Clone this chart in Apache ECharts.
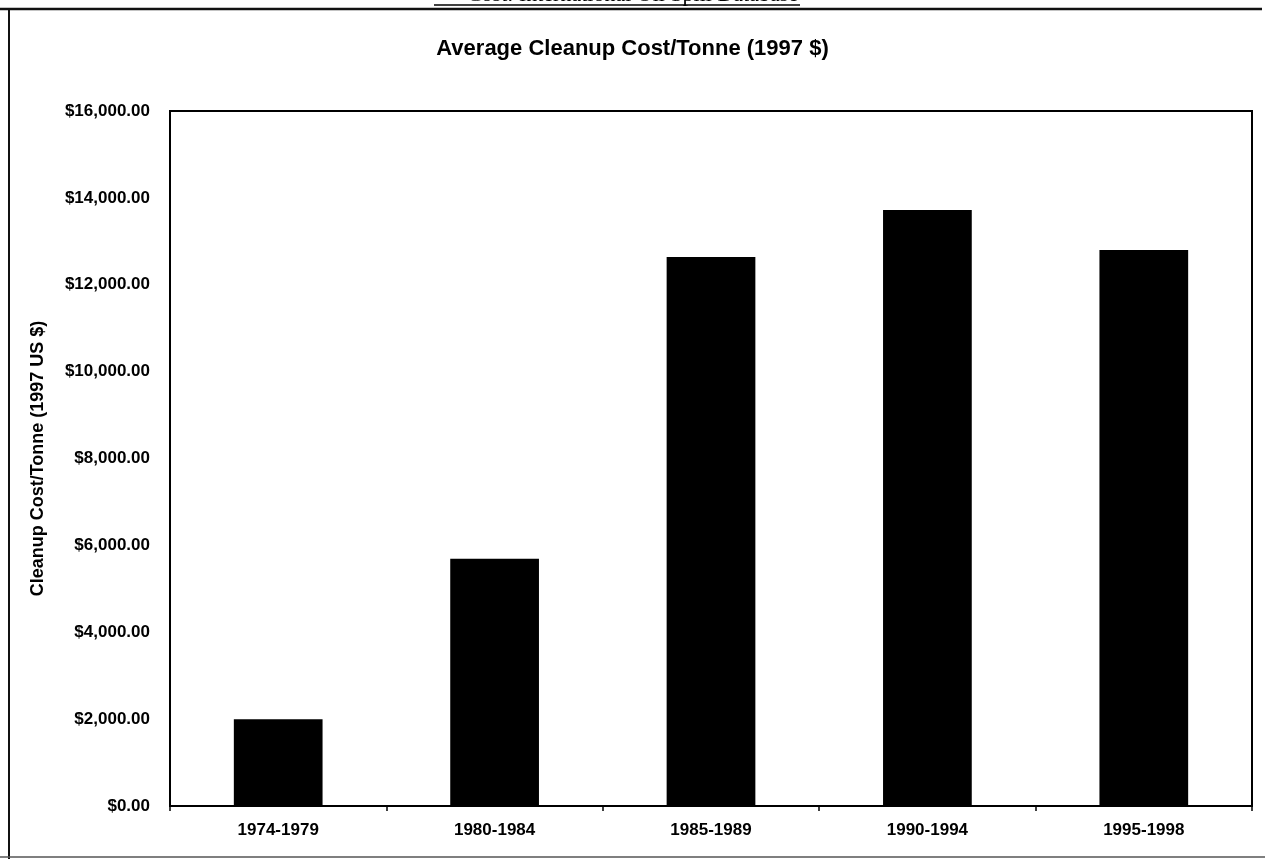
<!DOCTYPE html>
<html><head><meta charset="utf-8">
<script src="https://cdn.jsdelivr.net/npm/echarts@6/dist/echarts.min.js"></script>
<style>html,body{margin:0;padding:0;background:#fff}#c{width:1265px;height:859px}</style>
</head><body><div id="c"></div>
<script>
const categories = ['1974-1979','1980-1984','1985-1989','1990-1994','1995-1998'];
const costPerTonne = [2000, 5690, 12640, 13720, 12800];
const yTicks = {min: 0, max: 16000, interval: 2000};

const chart = echarts.init(document.getElementById('c'));
const font = '"Liberation Sans", Arial, sans-serif';
chart.setOption({
  animation: false,
  backgroundColor: '#fff',
  title: {
    text: 'Average Cleanup Cost/Tonne (1997 $)',
    left: 'center', top: 33,
    textStyle: {fontFamily: font, fontSize: 22, fontWeight: 'bold', color: '#000'}
  },
  grid: {left: 170, right: 13, top: 111, bottom: 53, show: true, borderColor: '#000', borderWidth: 2, backgroundColor: 'transparent'},
  xAxis: {
    type: 'category', data: categories,
    axisLine: {lineStyle: {color: '#000', width: 2}},
    axisTick: {show: true, length: 5, lineStyle: {color: '#000', width: 1.5}},
    axisLabel: {fontFamily: font, fontSize: 17, fontWeight: 'bold', color: '#000', margin: 16}
  },
  yAxis: {
    type: 'value', min: yTicks.min, max: yTicks.max, interval: yTicks.interval,
    name: 'Cleanup Cost/Tonne (1997 US $)', nameLocation: 'middle', nameGap: 123,
    nameTextStyle: {fontFamily: font, fontSize: 18, fontWeight: 'bold', color: '#000'},
    axisLine: {show: true, lineStyle: {color: '#000', width: 2}},
    axisTick: {show: false},
    splitLine: {show: false},
    axisLabel: {
      fontFamily: font, fontSize: 17, fontWeight: 'bold', color: '#000', margin: 20,
      formatter: v => '$' + v.toLocaleString('en-US', {minimumFractionDigits: 2, maximumFractionDigits: 2})
    }
  },
  series: [{
    type: 'bar', data: costPerTonne, barWidth: '41%',
    itemStyle: {color: '#000'}
  }],
  graphic: [
    {type: 'text', left: 'center', top: -16, style: {text: 'Cost: International Oil Spill Database', fontFamily: '"Liberation Serif", "Times New Roman", serif', fontSize: 22, fill: '#000'}},
    {type: 'line', shape: {x1: 434, y1: 5, x2: 800, y2: 5}, style: {stroke: '#000', lineWidth: 1.5}},
    {type: 'line', shape: {x1: 9, y1: 8, x2: 9, y2: 859}, style: {stroke: '#111', lineWidth: 2}},
    {type: 'line', shape: {x1: 0, y1: 9, x2: 1262, y2: 9}, style: {stroke: '#111', lineWidth: 2.5}},
    {type: 'line', shape: {x1: 0, y1: 857, x2: 1265, y2: 857}, style: {stroke: '#555', lineWidth: 1.5}}
  ]
});
</script></body></html>
